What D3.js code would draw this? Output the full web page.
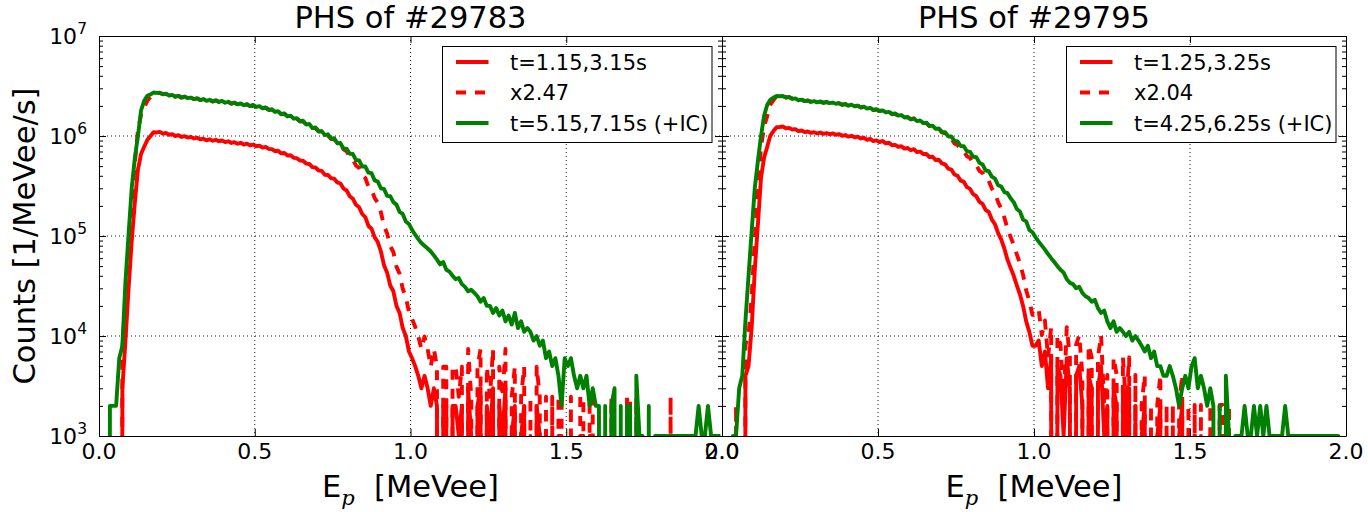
<!DOCTYPE html>
<html>
<head>
<meta charset="utf-8">
<script src="https://cdn.jsdelivr.net/npm/d3@7"></script>
<style>
  body { margin: 0; background: #fff; }
  svg { display: block; }
  text { font-family: "DejaVu Sans", sans-serif; fill: #000; }
</style>
</head>
<body>
<svg id="chart" width="1368" height="512"></svg>
<script>
// Pulse height spectra, bins of 0.01 MeVee; rates stored in units of 1e3 /MeVee/s
const binWidth = 0.01;
const countUnit = 1e3;

const shots = ["#29783", "#29795"];
const scaleFactors = [2.47, 2.04];
const earlyLabels = ["t=1.15,3.15s", "t=1.25,3.25s"];
const scaledLabels = ["x2.47", "x2.04"];
const lateLabels = ["t=5.15,7.15s (+IC)", "t=4.25,6.25s (+IC)"];

const xTicks = [0, 0.5, 1, 1.5, 2];
const yTicks = [1e3, 1e4, 1e5, 1e6, 1e7];

const early29783 = [
  0,0,0,0,0,0,0,3,9,30,
  88,215,460,660,780,910,995,1090,1085,1100,
  1055,1072,1030,1045,1000,1018,978,995,965,980,
  945,962,925,940,905,928,898,915,886,902,
  870,885,852,868,838,855,822,840,805,822,
  790,800,765,778,742,740,705,712,670,676,
  638,642,605,600,568,565,530,525,488,484,
  452,448,410,408,378,375,343,335,298,285,
  250,236,205,194,166,154,126,118,97,87,
  70,51,43,32,28,20,17,12,10,7,
  6,5,4,3,4,3,2,3,2,0,
  2,2,0,2,2,1,2,0,3,1,
  0,2,3,0,2,1,3,0,2,1,
  3,0,1,2,0,1,2,0,1,0,
  2,1,0,1,0,1,0,1,1,0,
  0,1,0,0,1,1,0,1,1,0,
  0,0,0,0,1,0,0,0,0,1,
  1,0,1,0,0,0,0,0,0,0,
  0,0,0,1,0,0,0,0,0,0,
  0,0,0,0,0,0,0,0,0,0
];

const late29783 = [
  0,0,0,2,2,2,6,8,35,105,
  300,600,1000,1800,2250,2520,2600,2720,2700,2690,
  2620,2640,2540,2580,2470,2520,2430,2480,2390,2420,
  2340,2380,2290,2340,2250,2300,2210,2280,2190,2240,
  2150,2200,2110,2160,2070,2120,2030,2080,1990,2040,
  1950,1990,1890,1930,1820,1850,1740,1770,1650,1680,
  1570,1600,1490,1510,1400,1420,1300,1320,1200,1220,
  1110,1120,1020,1040,940,950,845,850,745,745,
  665,660,575,570,495,495,430,425,360,350,
  300,295,252,250,218,206,174,166,140,132,
  115,103,93,85,80,75,70,64,58,52,
  55,46,44,40,37,38,33,31,28,29,
  27,25,22,24,20,20,17,19,16,18,
  14,16,13,17,12,14,11,12,11,9,
  10,8,9,6,7,5,6,4,2,6,
  5,6,4,3,4,3,4,2,3,2,
  2,0,2,0,2,3,0,2,0,2,
  2,0,4,1,1,0,2,0,1,1,
  1,1,1,1,1,1,1,1,1,1,
  1,1,2,1,1,2,1,1,1,1
];

const early29795 = [
  0,0,0,0,1,0,0,4,5,12,
  45,130,380,610,780,1010,1120,1225,1230,1245,
  1190,1205,1160,1170,1120,1135,1095,1110,1075,1092,
  1060,1082,1050,1070,1040,1062,1030,1045,1005,1022,
  985,1005,970,985,945,960,915,935,890,905,
  870,892,842,858,808,815,778,790,748,758,
  720,738,690,698,660,662,615,620,575,578,
  532,520,472,462,412,400,358,348,308,296,
  262,250,220,210,182,174,146,131,107,92,
  75,58,48,40,32,26,20,14,11,8,
  8,9,5,7,3,6,0,5,4,1,
  6,3,0,4,5,2,0,4,3,0,
  3,5,1,2,0,3,2,0,3,1,
  3,0,2,0,1,2,0,1,0,1,
  2,0,1,0,1,0,1,2,0,1,
  0,1,0,1,0,0,1,0,0,1,
  1,0,1,0,0,0,0,0,0,0,
  0,0,0,0,0,0,0,0,0,0,
  0,0,0,0,0,0,0,0,0,0,
  0,0,0,0,0,0,0,0,0,0
];

const late29795 = [
  0,0,0,1,1,3,4,14,40,110,
  300,560,1000,1600,2050,2310,2410,2510,2500,2510,
  2430,2450,2350,2380,2280,2310,2230,2260,2190,2230,
  2170,2210,2150,2190,2130,2160,2100,2130,2050,2090,
  2010,2060,1980,2010,1940,1960,1880,1910,1820,1850,
  1780,1800,1720,1740,1660,1680,1600,1620,1530,1550,
  1470,1490,1410,1430,1350,1360,1260,1270,1180,1190,
  1100,1090,990,990,895,885,795,790,705,695,
  620,615,540,520,452,445,392,375,322,312,
  275,268,238,218,186,176,146,140,115,109,
  97,88,80,73,66,60,55,50,46,43,
  37,34,33,30,31,27,25,24,22,23,
  19,17,18,14,12,14,11,12,11,10,
  11,9,10,9,8,7,8,6,7,5,
  5,4,4,5,4,3,2,3,4,3,
  5,6,3,4,3,2,3,2,0,2,
  0,4,1,0,1,1,1,2,1,1,
  2,1,2,1,2,1,1,1,1,1,
  2,1,1,1,1,1,1,1,1,1,
  1,1,1,1,1,1,1,1,0,0
];

const earlySeries = [early29783, early29795];
const lateSeries = [late29783, late29795];

// ---- layout ----
const plotTop = 36, plotH = 400, plotBottom = plotTop + plotH;
const panelSpan = [[99, 722], [722, 1346]];
const RED = "#ff0000", GREEN = "#008000";
const LW = 3.9, DASH = "10,9";

const svg = d3.select("#chart");
const defs = svg.append("defs");

const minorTicks = [];
for (let e = 3; e < 7; e++) for (let m = 2; m <= 9; m++) minorTicks.push(m * Math.pow(10, e));

panelSpan.forEach(([x0, x1], k) => {
  const x = d3.scaleLinear().domain([0, 2]).range([x0, x1]);
  const y = d3.scaleLog().domain([1e3, 1e7]).range([plotBottom, plotTop]);
  const g = svg.append("g");

  // grid
  const grid = g.append("g").attr("stroke", "#000").attr("stroke-width", 0.9)
    .attr("stroke-dasharray", "1,3");
  [0.5, 1, 1.5].forEach(t => grid.append("line")
    .attr("x1", x(t)).attr("x2", x(t)).attr("y1", plotTop).attr("y2", plotBottom));
  [1e4, 1e5, 1e6].forEach(t => grid.append("line")
    .attr("x1", x0).attr("x2", x1).attr("y1", y(t)).attr("y2", y(t)));

  // spectra
  const clipId = "clip" + k;
  defs.append("clipPath").attr("id", clipId).append("rect")
    .attr("x", x0).attr("y", plotTop).attr("width", x1 - x0).attr("height", plotH);

  const toPoints = (arr, f) => arr.map((v, i) => ({ e: (i + 0.5) * binWidth, v: v * countUnit * f }));
  const line = d3.line()
    .x(d => x(d.e))
    .y(d => d.v > 0 ? y(d.v) : plotBottom + 4000);

  const lines = g.append("g").attr("clip-path", `url(#${clipId})`)
    .attr("fill", "none").attr("stroke-width", LW).attr("stroke-linejoin", "round");
  lines.append("path").attr("d", line(toPoints(earlySeries[k], 1))).attr("stroke", RED);
  lines.append("path").attr("d", line(toPoints(earlySeries[k], scaleFactors[k])))
    .attr("stroke", RED).attr("stroke-dasharray", DASH);
  lines.append("path").attr("d", line(toPoints(lateSeries[k], 1))).attr("stroke", GREEN);

  // axes on all four sides, ticks pointing inward
  const styleAxis = sel => {
    sel.selectAll(".domain").attr("stroke", "#000").attr("stroke-width", 1);
    sel.selectAll(".tick line").attr("stroke", "#000").attr("stroke-width", 1);
    sel.selectAll(".tick text").remove();
  };
  const bottom = g.append("g").attr("transform", `translate(0,${plotBottom})`)
    .call(d3.axisBottom(x).tickValues(xTicks).tickSizeInner(-7).tickSizeOuter(0));
  styleAxis(bottom);
  const top = g.append("g").attr("transform", `translate(0,${plotTop})`)
    .call(d3.axisTop(x).tickValues(xTicks).tickSizeInner(-7).tickSizeOuter(0));
  styleAxis(top);
  [[d3.axisLeft, x0], [d3.axisRight, x1]].forEach(([axisFn, xp]) => {
    const major = g.append("g").attr("transform", `translate(${xp},0)`)
      .call(axisFn(y).tickValues(yTicks).tickSizeInner(-7).tickSizeOuter(0));
    styleAxis(major);
    const minor = g.append("g").attr("transform", `translate(${xp},0)`)
      .call(axisFn(y).tickValues(minorTicks).tickSizeInner(-4).tickSizeOuter(0));
    styleAxis(minor);
    minor.select(".domain").remove();
  });

  // x tick labels
  g.append("g").selectAll("text").data(xTicks).join("text")
    .attr("x", d => x(d)).attr("y", plotBottom + 23)
    .attr("text-anchor", "middle").attr("font-size", 22)
    .text(d => d3.format(".1f")(d));

  // y tick labels (left panel only)
  if (k === 0) {
    const yl = g.append("g").selectAll("text").data(yTicks).join("text")
      .attr("x", x0 - 12).attr("y", d => y(d)).attr("dy", "0.36em")
      .attr("text-anchor", "end").attr("font-size", 22);
    yl.append("tspan").text("10");
    yl.append("tspan").attr("font-size", 15.5).attr("dy", "-0.62em")
      .text(d => Math.round(Math.log10(d)));
    svg.append("text")
      .attr("transform", `translate(35,${plotTop + plotH / 2}) rotate(-90)`)
      .attr("text-anchor", "middle").attr("font-size", 30.5)
      .text("Counts [1/MeVee/s]");
  }

  // title
  g.append("text").attr("x", (x0 + x1) / 2).attr("y", 28)
    .attr("text-anchor", "middle").attr("font-size", 30.5)
    .text("PHS of " + shots[k]);

  // x label
  const xl = g.append("text").attr("x", (x0 + x1) / 2).attr("y", 497)
    .attr("text-anchor", "middle").attr("font-size", 30.5);
  xl.append("tspan").text("E");
  xl.append("tspan").attr("font-family", "DejaVu Serif").attr("font-style", "italic")
    .attr("font-size", 21).attr("dy", 8).text("p");
  xl.append("tspan").attr("dy", -8).text("\u00a0 [MeVee]");

  // legend
  const lw = 269.5, lh = 96;
  const lx = x1 - 10 - lw, ly = plotTop + 10.5;
  const leg = g.append("g");
  leg.append("rect").attr("x", lx).attr("y", ly).attr("width", lw).attr("height", lh)
    .attr("fill", "#fff").attr("stroke", "#000").attr("stroke-width", 1);
  const entries = [
    { label: earlyLabels[k], color: RED, dash: null },
    { label: scaledLabels[k], color: RED, dash: DASH },
    { label: lateLabels[k], color: GREEN, dash: null }
  ];
  entries.forEach((en, i) => {
    const ry = ly + 15.5 + i * 30.5;
    leg.append("line").attr("x1", lx + 13.5).attr("x2", lx + 46).attr("y1", ry).attr("y2", ry)
      .attr("stroke", en.color).attr("stroke-width", LW)
      .attr("stroke-dasharray", en.dash);
    leg.append("text").attr("x", lx + 67.5).attr("y", ry).attr("dy", "0.36em")
      .attr("font-size", 21).text(en.label);
  });
});
</script>
</body>
</html>
